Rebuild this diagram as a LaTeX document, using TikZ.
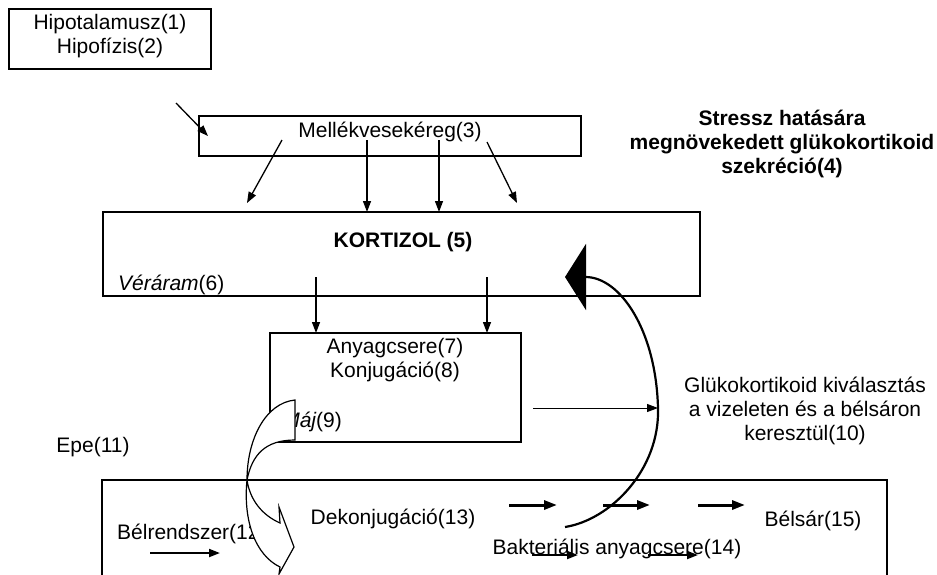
\documentclass[tikz,border=0pt]{standalone}
\usepackage{fontspec}
\setmainfont{Liberation Sans}
\usetikzlibrary{arrows.meta}

\begin{document}
\begin{tikzpicture}[x=1pt, y=-1pt,
    box/.style={draw, line width=1.8pt, inner sep=0pt},
    txt/.style={inner sep=0pt, align=center, font=\fontsize{21}{24}\selectfont},
    arr/.style={-{Triangle[length=11pt,width=8pt]}, line width=1.3pt},
    fat/.style={-{Triangle[length=13pt,width=9pt]}, line width=3pt}
  ]
  \clip (0,0) rectangle (937,574);

  % boxes
  \node[box, minimum width=202, minimum height=60]  (hyp)   at (110,39)    {};
  \node[box, minimum width=382, minimum height=40]  (mell)  at (390,136)   {};
  \node[box, minimum width=597, minimum height=84]  (kort)  at (401.5,254) {};
  \node[box, minimum width=251, minimum height=109] (anyag) at (395.5,387.5) {};
  \node[box, minimum width=785, minimum height=140] (bel)   at (494.5,550) {};

  % texts
  \node[txt] (hyptxt)   at (110,36)  {Hipotalamusz(1)\\Hipofízis(2)};
  \node[txt] (melltxt)  at (390,132) {Mellékvesekéreg(3)};
  \node[txt] (stressz)  at (782,144) {\bfseries Stressz hatására\\\bfseries megnövekedett glükokortikoid\\\bfseries szekréció(4)};
  \node[txt] (korttxt)  at (403,242) {\bfseries KORTIZOL (5)};
  \node[txt, anchor=west] (ver) at (118,285) {\itshape Véráram\upshape(6)};
  \node[txt] (anyagtxt) at (395,360) {Anyagcsere(7)\\Konjugáció(8)};
  \node[txt, anchor=east] (maj) at (342,422) {\itshape Máj\upshape(9)};
  \node[txt] (glu)      at (805,411) {Glükokortikoid kiválasztás\\a vizeleten és a bélsáron\\keresztül(10)};
  \node[txt] (epe)      at (93,447)  {Epe(11)};
  \node[txt, anchor=west] (belr) at (117,534) {Bélrendszer(12)};
  \node[txt] (dekon)    at (393,519) {Dekonjugáció(13)};
  \node[txt] (bakt)     at (617,549) {Bakteriális anyagcsere(14)};
  \node[txt] (belsar)   at (813,521) {Bélsár(15)};

  % arrow ends
  \coordinate (hin)  at (176,103);
  \coordinate (hout) at (208,136);
  \coordinate (m1) at (282,140);  \coordinate (k1) at (247,203);
  \coordinate (m2) at (367,140);  \coordinate (k2) at (367,212);
  \coordinate (m3) at (439,140);  \coordinate (k3) at (439,212);
  \coordinate (m4) at (487,142);  \coordinate (k4) at (517,203);
  \coordinate (v1) at (316,277);  \coordinate (a1) at (316,333);
  \coordinate (v2) at (487,277);  \coordinate (a2) at (487,333);
  \coordinate (ki)  at (533,408);
  \coordinate (kiv) at (658,408);
  \coordinate (bstart) at (565,527);
  \coordinate (btip)   at (565,277);

  \draw[arr] (hin) -- (hout);
  \draw[arr] (m1) -- (k1);
  \draw[arr] (m2) -- (k2);
  \draw[arr] (m3) -- (k3);
  \draw[arr] (m4) -- (k4);
  \draw[arr] (v1) -- (a1);
  \draw[arr] (v2) -- (a2);
  \draw[arr, line width=1pt] (ki) -- (kiv);

  % visszaszivas
  \draw[line width=2.2pt, -{Triangle[length=21pt,width=66pt]}]
    (bstart) .. controls (610,520) and (660,470) .. (kiv)
    .. controls (656,330) and (620,277) .. (btip);

  % bel arrows
  \draw[fat] (509,505) -- (557,505);
  \draw[fat] (603,505) -- (650,505);
  \draw[fat] (698,505) -- (745,505);
  \draw[arr, line width=2pt] (150,553) -- (220,553);
  \draw[arr, line width=2pt] (532,555) -- (578,555);
  \draw[arr, line width=2pt] (648,555) -- (698,555);

  % epe
  \draw[fill=white, line width=1.2pt]
    (295,400) .. controls (265,403) and (247,440) .. (247,480)
    .. controls (243,520) and (255,555) .. (280,567)
    -- (279,574) -- (294,547) -- (279,507) -- (280,523)
    .. controls (262,515) and (250,500) .. (247,480)
    .. controls (252,455) and (265,440) .. (295,440) -- cycle;

\end{tikzpicture}
\end{document}
